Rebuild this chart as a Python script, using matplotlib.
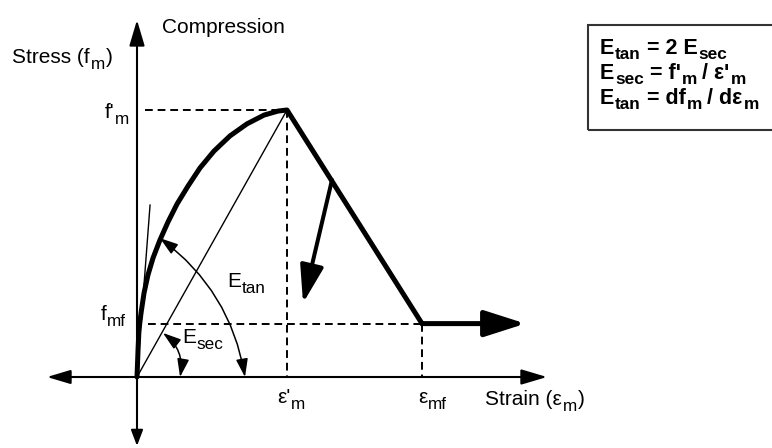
import matplotlib
matplotlib.use("Agg")
import matplotlib.pyplot as plt
from matplotlib.patches import FancyArrowPatch, Rectangle
from matplotlib.transforms import IdentityTransform

plt.rcParams['font.family'] = ['Liberation Sans', 'DejaVu Sans']

# ---- data (strain normalised by eps'_m, stress normalised by f'_m) ----
strain_rise = [0.0, 0.007, 0.013, 0.027, 0.047, 0.073, 0.107, 0.153, 0.207, 0.267,
               0.340, 0.420, 0.513, 0.620, 0.733, 0.847, 0.940, 1.0]
stress_rise = [0.0, 0.101, 0.176, 0.240, 0.315, 0.382, 0.446, 0.513, 0.581, 0.648,
               0.715, 0.783, 0.846, 0.903, 0.948, 0.981, 0.996, 1.0]
strain_peak, stress_peak = 1.0, 1.0
strain_mf, stress_mf = 1.9, 0.2
strain_plateau_end = 2.59
tangent_strain = [0.0, 0.087]
tangent_stress = [0.0, 0.644]
softening_strain = [1.30, 1.107]
softening_stress = [0.738, 0.277]
etan_arc_strain = [0.153, 0.72]
etan_arc_stress = [0.52, 0.0]
esec_arc_strain = [0.173, 0.287]
esec_arc_stress = [0.165, 0.0]
axis_strain = [-0.6, 2.733]
axis_stress = [-0.258, 1.337]

fig = plt.figure(figsize=(7.72, 4.48), dpi=100)
ax = fig.add_axes([0, 0, 1, 1])
ax.set_xlim(-137 / 150, 635 / 150)
ax.set_ylim(-71 / 267, 377 / 267)
ax.axis('off')
renderer = fig.canvas.get_renderer()
PX = fig.dpi / 72.0


def arrow(p0, p1, style, lw, hl, hw, rad=0.0, z=3):
    a = FancyArrowPatch(p0, p1,
                        arrowstyle=f"{style},head_length={hl},head_width={hw}",
                        mutation_scale=1, lw=lw, color='black',
                        shrinkA=0, shrinkB=0,
                        connectionstyle=f"arc3,rad={rad}", zorder=z)
    ax.add_patch(a)


def rich(x, y, segs, fs, weight='normal', ha='left', sub=0.82, drop=0.30, kern=0.04):
    """Text with subscripts: segs = list of (string, kind), kind 'n', 's' or 'g' (gap, em)."""
    xd, yd = ax.transData.transform((x, y))
    pieces = []
    total = 0.0
    for s, kind in segs:
        if kind == 'g':
            w = float(s) * fs * PX
            pieces.append((None, kind, w))
            total += w
            continue
        size = fs if kind == 'n' else fs * sub
        t = ax.text(0, 0, s, fontsize=size, fontweight=weight, transform=IdentityTransform(),
                    ha='left', va='baseline')
        w = t.get_window_extent(renderer).width + kern * fs * PX
        pieces.append((t, kind, w))
        total += w
    cur = xd - total if ha == 'right' else xd
    for t, kind, w in pieces:
        if t is not None:
            dy = 0.0 if kind == 'n' else -drop * fs * PX
            t.set_position((cur, yd + dy))
        cur += w


# axes
arrow((0, 0), (0, axis_stress[1]), '-|>', 1.5, 15.8, 4.7)
arrow((0, 0), (0, axis_stress[0]), '-|>', 1.5, 9.5, 3.6)
arrow((0, 0), (axis_strain[0], 0), '-|>', 1.5, 14.4, 4.3)
arrow((0, 0), (axis_strain[1], 0), '-|>', 1.5, 15.8, 4.7)

# dashed guide lines
dash = (0, (4, 2.5))
ax.plot([0.053, strain_peak], [stress_peak, stress_peak], color='black', lw=1.4, ls=dash)
ax.plot([strain_peak, strain_peak], [stress_peak, 0], color='black', lw=1.4, ls=dash)
ax.plot([0.073, strain_mf], [stress_mf, stress_mf], color='black', lw=1.4, ls=dash)
ax.plot([strain_mf, strain_mf], [stress_mf, 0], color='black', lw=1.4, ls=dash)

# secant and tangent lines
ax.plot([0, strain_peak], [0, stress_peak], color='black', lw=1.0)
ax.plot(tangent_strain, tangent_stress, color='black', lw=1.0)

# main stress-strain curve
ax.plot(strain_rise + [strain_mf], stress_rise + [stress_mf], color='black', lw=3.6,
        solid_joinstyle='round', solid_capstyle='round', zorder=4)
arrow((strain_mf, stress_mf), (strain_plateau_end, stress_mf), '-|>', 3.6, 25, 8, z=4)
arrow((softening_strain[0], softening_stress[0]), (softening_strain[1], softening_stress[1]),
      '-|>', 2.9, 23, 7.2, z=4)

# modulus arcs
arrow((etan_arc_strain[0], etan_arc_stress[0]), (etan_arc_strain[1], etan_arc_stress[1]),
      '<|-|>', 1.1, 11, 3.6, rad=-0.2)
arrow((esec_arc_strain[0], esec_arc_stress[0]), (esec_arc_strain[1], esec_arc_stress[1]),
      '<|-|>', 1.1, 11, 3.6, rad=-0.3)

fs = 15
rich(0.167, 1.288, [("Compression", 'n')], fs)
rich(-0.833, 1.176, [("Stress (f", 'n'), ("m", 's'), (")", 'n')], fs)
rich(-0.047, 0.970, [("f'", 'n'), ("m", 's')], fs, ha='right')
rich(-0.067, 0.215, [("f", 'n'), ("mf", 's')], fs, ha='right')
rich(0.933, -0.097, [("ε'", 'n'), ("m", 's')], fs)
rich(1.873, -0.097, [("ε", 'n'), ("mf", 's')], fs)
rich(2.32, -0.105, [("Strain (ε", 'n'), ("m", 's'), (")", 'n')], fs)
rich(0.60, 0.337, [("E", 'n'), ("tan", 's')], fs)
rich(0.30, 0.127, [("E", 'n'), ("sec", 's')], fs)

# formula box
ax.add_patch(Rectangle((3.007, 0.925), 2.0, 0.393, fill=False, lw=1.5,
                       edgecolor='#333333', zorder=2))
bfs = 15.5
bx = 3.087
bsub, bdrop = 0.8, 0.22
rich(bx, 1.210, [("E", 'n'), ("tan", 's'), ("0.25", 'g'), ("= 2 E", 'n'), ("sec", 's')],
     bfs, weight='bold', sub=bsub, drop=bdrop)
rich(bx, 1.116, [("E", 'n'), ("sec", 's'), ("0.25", 'g'), ("= f'", 'n'), ("m", 's'),
                 ("0.2", 'g'), ("/ ε'", 'n'), ("m", 's')], bfs, weight='bold', sub=bsub, drop=bdrop)
rich(bx, 1.022, [("E", 'n'), ("tan", 's'), ("0.25", 'g'), ("= df", 'n'), ("m", 's'),
                 ("0.2", 'g'), ("/ dε", 'n'), ("m", 's')], bfs, weight='bold', sub=bsub, drop=bdrop)

fig.savefig("out.png", dpi=100)
